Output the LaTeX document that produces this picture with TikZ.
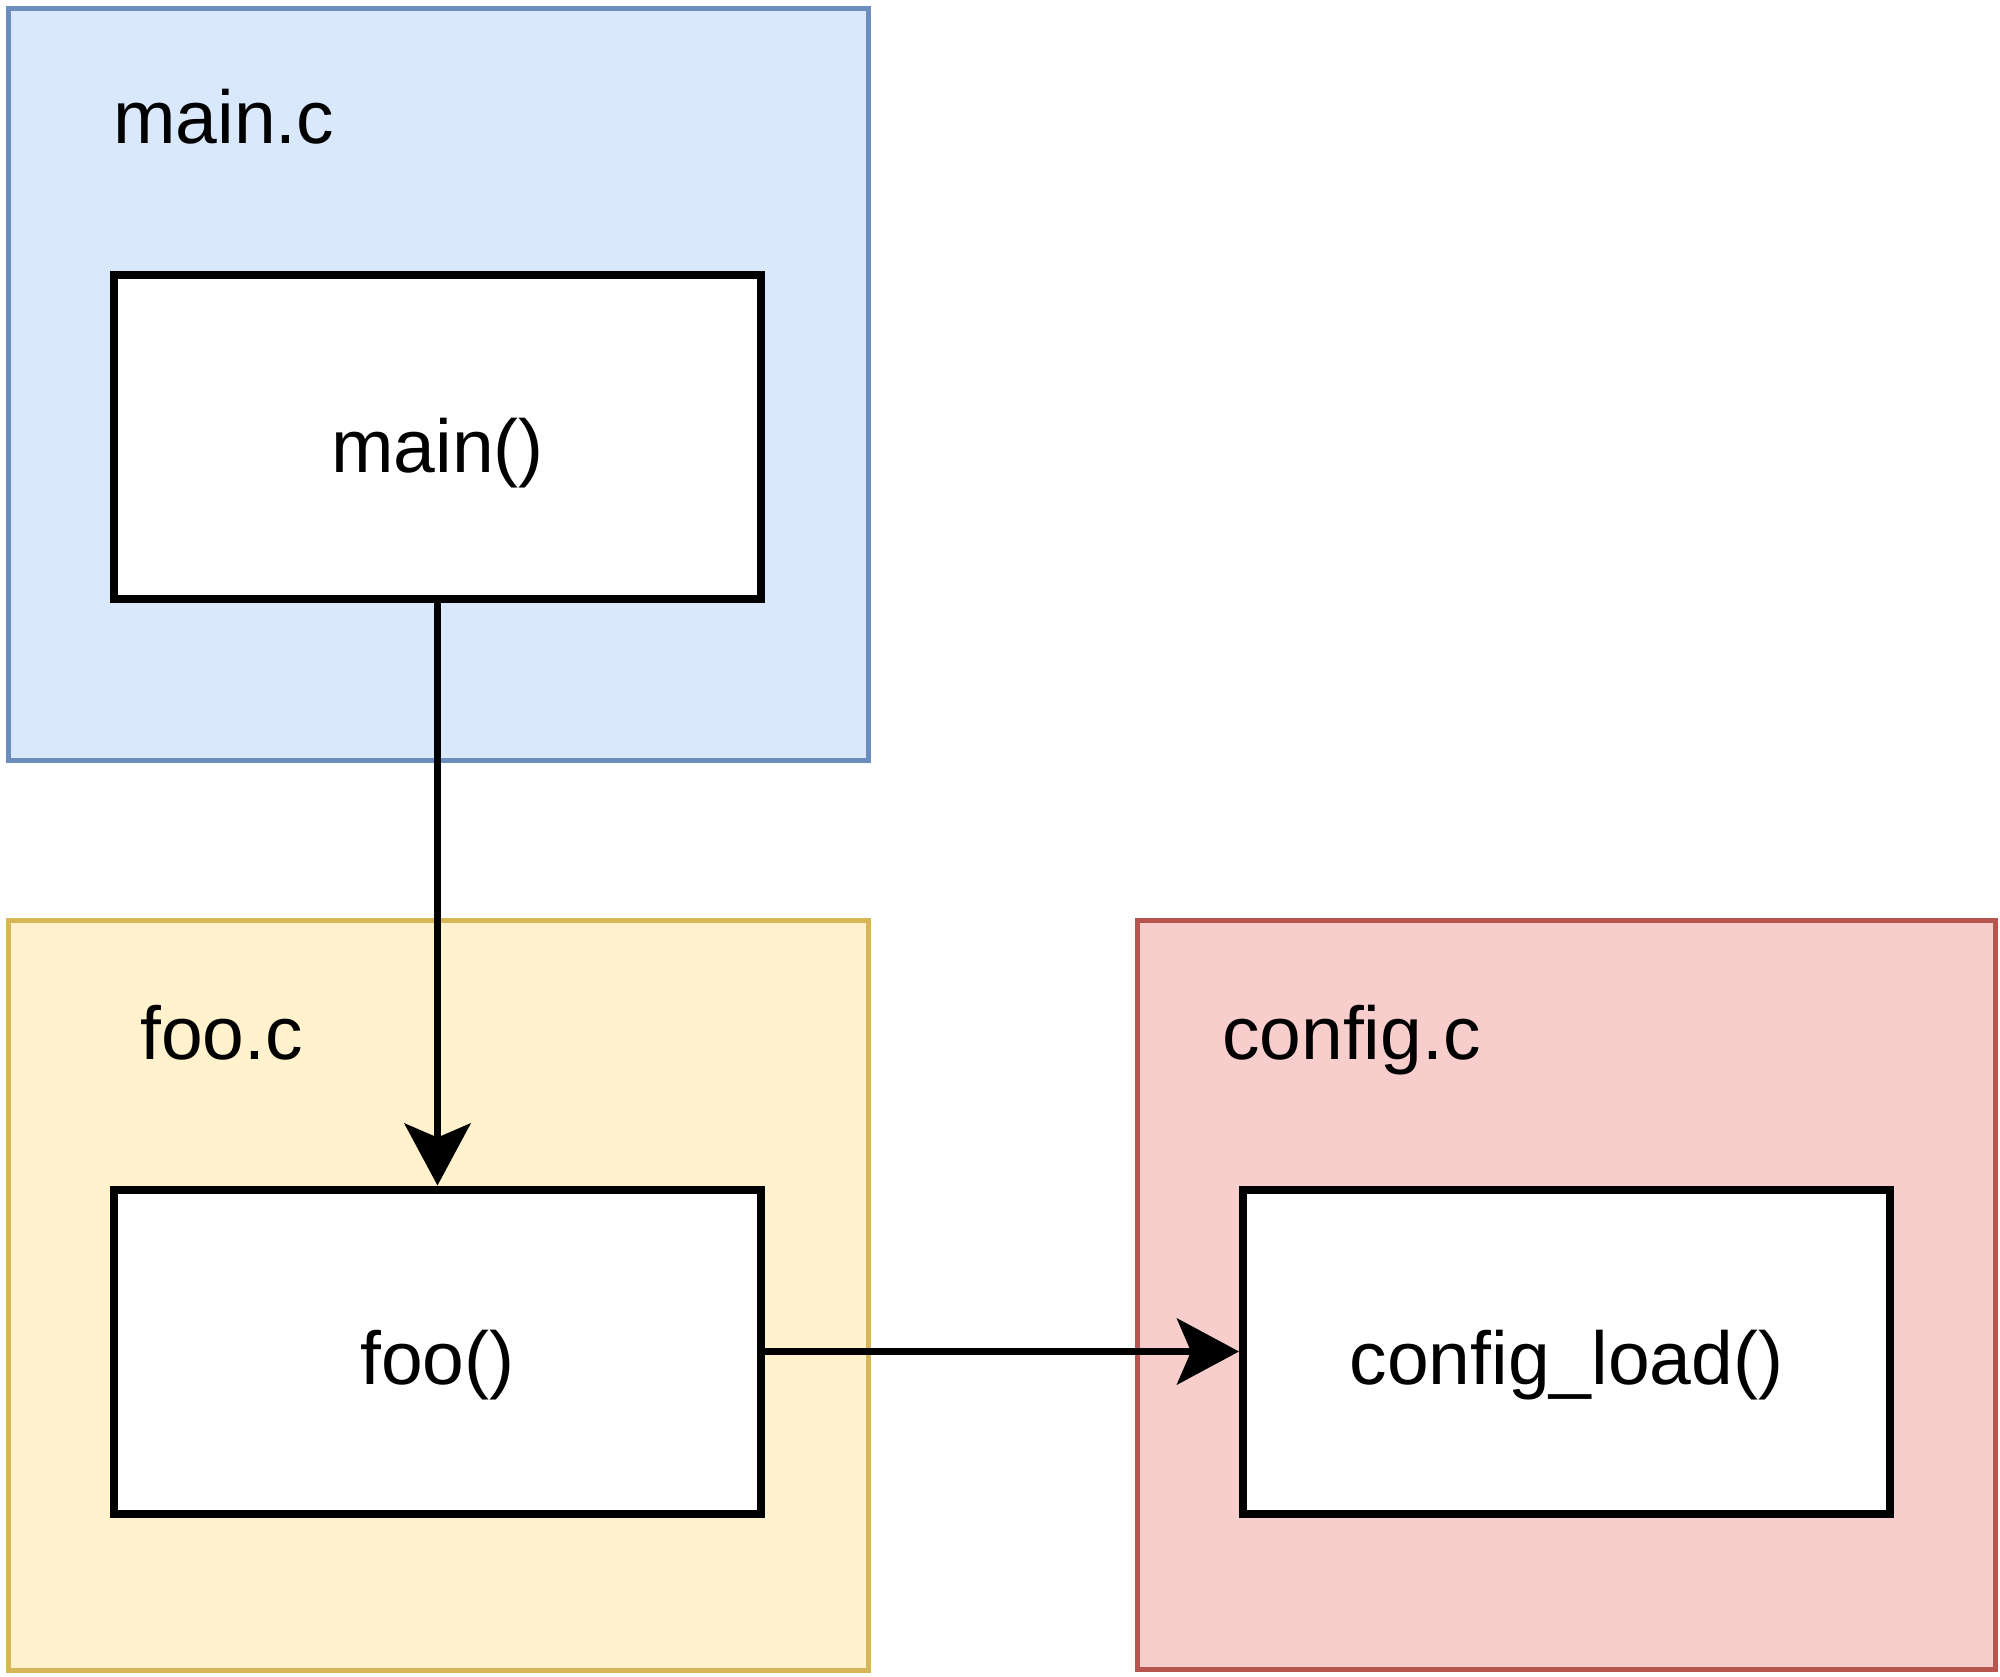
\documentclass[tikz,border=0pt]{standalone}
\usepackage{fontspec}
\setmainfont{Liberation Sans}
\usetikzlibrary{arrows.meta}
\definecolor{bluefill}{HTML}{DAE8FC}
\definecolor{bluestroke}{HTML}{6C8EBF}
\definecolor{yelfill}{HTML}{FFF2CC}
\definecolor{yelstroke}{HTML}{D6B656}
\definecolor{redfill}{HTML}{F8CECC}
\definecolor{redstroke}{HTML}{B85450}
\tikzset{
  container/.style={rectangle, line width=5pt, inner sep=0pt, outer sep=0pt},
  funcbox/.style={rectangle, draw=black, fill=white, line width=8pt, inner sep=0pt,
    minimum width=647pt, minimum height=324pt, font=\fontsize{75}{90}\selectfont},
  lbl/.style={anchor=base west, inner sep=0pt, font=\fontsize{75}{90}\selectfont},
  arr/.style={line width=7pt, -{Stealth[length=62pt, width=66pt, inset=14pt]}},
}
\begin{document}
\begin{tikzpicture}[x=1pt, y=-1pt]
\useasboundingbox (0,0) rectangle (2000,1677);
% containers
\node[container, draw=bluestroke, fill=bluefill, minimum width=860pt, minimum height=751pt] (mainfile) at (438,384.5) {};
\node[container, draw=yelstroke, fill=yelfill, minimum width=860pt, minimum height=750pt] (foofile) at (438,1295) {};
\node[container, draw=redstroke, fill=redfill, minimum width=858pt, minimum height=749pt] (configfile) at (1566,1294.5) {};
% labels
\node[lbl] (mainlbl) at (113,144) {main.c};
\node[lbl] (foolbl) at (140,1059) {foo.c};
\node[lbl] (configlbl) at (1222,1059) {config.c};
% function boxes
\node[funcbox] (mainfn) at (437.5,437) {};
\node[funcbox] (foofn) at (437.5,1351.5) {};
\node[funcbox] (configfn) at (1566.5,1351.5) {};
\node[anchor=base, inner sep=0pt, font=\fontsize{75}{90}\selectfont] (maintxt) at (437.5,472) {main()};
\node[anchor=base, inner sep=0pt, font=\fontsize{75}{90}\selectfont] (footxt) at (437.5,1384) {foo()};
\node[anchor=base, inner sep=0pt, font=\fontsize{75}{90}\selectfont] (configtxt) at (1566.5,1384) {config\_load()};
% connectors
\draw[arr] (mainfn.south) -- (foofn.north);
\draw[arr] (foofn.east) -- (configfn.west);
\end{tikzpicture}
\end{document}
